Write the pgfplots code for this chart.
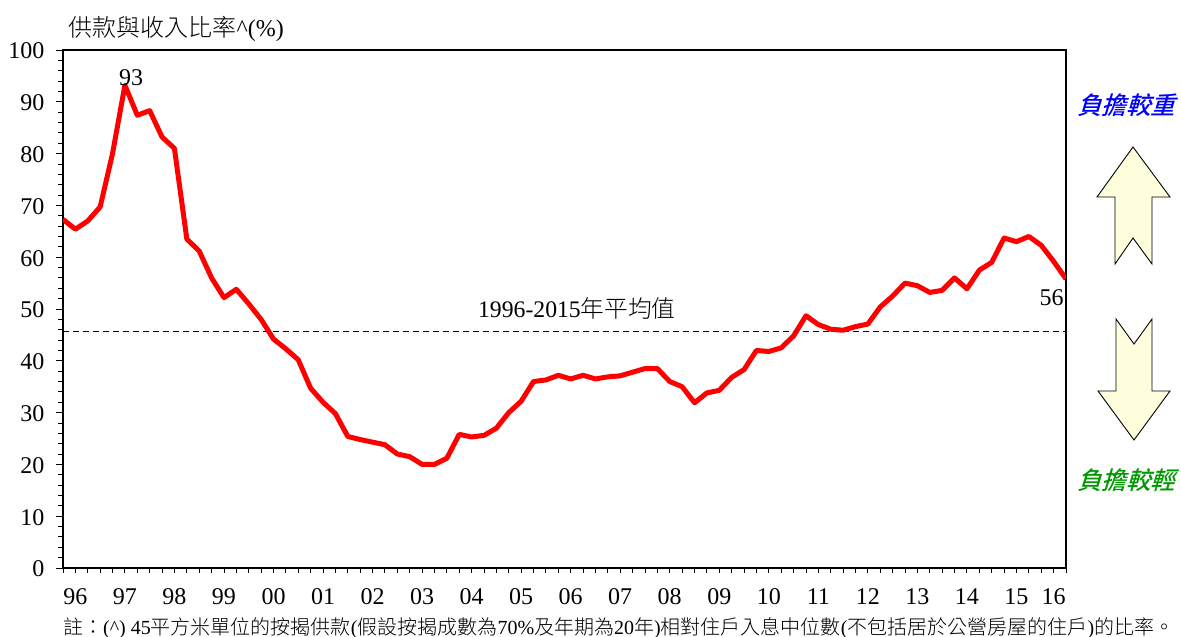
\documentclass[border=0pt]{standalone}
\usepackage{pgfplots}
\usepackage{fontspec}
\pgfplotsset{compat=1.18}
\setmainfont{Liberation Serif}
\newfontfamily\cjk{Noto Sans CJK TC}[UprightFont=* Light]
\newfontfamily\cjkit{Noto Sans CJK TC}[UprightFont=* Medium,FakeSlant=0.3]
\pgfplotstableread{
i v
0 67.3
1 65.4
2 67.0
3 69.7
4 80.0
5 93.2
6 87.4
7 88.3
8 83.2
9 81.0
10 63.5
11 61.2
12 56.0
13 52.2
14 53.8
15 51.0
16 48.0
17 44.2
18 42.3
19 40.2
20 34.7
21 32.0
22 29.8
23 25.4
24 24.8
25 24.3
26 23.8
27 22.0
28 21.5
29 20.0
30 20.0
31 21.2
32 25.8
33 25.3
34 25.6
35 27.0
36 30.0
37 32.2
38 36.0
39 36.3
40 37.2
41 36.5
42 37.2
43 36.5
44 36.9
45 37.1
46 37.8
47 38.5
48 38.5
49 36.0
50 35.0
51 31.9
52 33.8
53 34.3
54 36.8
55 38.3
56 42.0
57 41.8
58 42.5
59 44.8
60 48.7
61 47.0
62 46.1
63 45.9
64 46.6
65 47.1
66 50.4
67 52.5
68 55.0
69 54.5
70 53.2
71 53.6
72 56.0
73 53.9
74 57.5
75 59.0
76 63.7
77 63.0
78 64.0
79 62.3
80 59.2
81 55.8
}\ratio
\definecolor{arrowfill}{HTML}{FFFFDD}
\definecolor{dkgreen}{HTML}{009900}
\begin{document}
\begin{tikzpicture}[x=1pt,y=-1pt]
\path[use as bounding box] (0,0) rectangle (1181,637);
\begin{axis}[
  at={(63pt,-568pt)}, anchor=south west,
  scale only axis, width=1003pt, height=518pt,
  xmin=0, xmax=81, ymin=0, ymax=100,
  axis line style={line width=1.2pt},
  tick align=outside, tick pos=left,
  tick style={black,line width=0.9pt},
  major tick length=7pt, minor tick length=4.5pt,
  xtick={1,5,9,13,17,21,25,29,33,37,41,45,49,53,57,61,65,69,73,77,80},
  xticklabels={96,97,98,99,00,01,02,03,04,05,06,07,08,09,10,11,12,13,14,15,16},
  minor xtick={0,1,...,81},
  major x tick style={draw=none},
  ytick={0,10,...,100},
  minor y tick num=4,
  tick label style={font=\fontsize{24}{24}\selectfont},
  xticklabel style={yshift=-10pt},
  yticklabel style={xshift=-8pt,yshift=-1pt},
  /pgf/number format/assume math mode=true,
  clip=true,
]
\addplot[black,line width=0.9pt,dash pattern=on 6pt off 4pt,forget plot] coordinates {(0,45.75) (81,45.75)};
\addplot[red,line width=5pt,line join=round] table[x=i,y=v] {\ratio};
\node[font=\fontsize{24}{24}\selectfont,anchor=south] at (axis cs:5.5,92.4) {93};
\node[font=\fontsize{24}{24}\selectfont,anchor=north east] at (axis cs:81.1,54.5) {56};
\node[font=\fontsize{23.7}{24}\selectfont,anchor=center] at (axis cs:41.5,50.1) {1996-2015{\cjk 年平均值}};
\end{axis}
\node[anchor=west,font=\fontsize{24}{24}\selectfont] at (65,29) {{\cjk 供款與收入比率}\textasciicircum(\%)};
\node[anchor=west,font=\fontsize{20}{20}\selectfont,inner sep=0pt] at (63,628) {{\cjk 註：}(\textasciicircum) 45{\cjk 平方米單位的按揭供款}({\cjk 假設按揭成數為}70\%{\cjk 及年期為}20{\cjk 年}){\cjk 相對住戶入息中位數}({\cjk 不包括居於公營房屋的住戶}){\cjk 的比率。}};
\node[font=\fontsize{24.5}{25}\selectfont\cjkit,text=blue,inner sep=0pt] at (1126,105) {負擔較重};
\node[font=\fontsize{24.5}{25}\selectfont\cjkit,text=dkgreen,inner sep=0pt] at (1126,480) {負擔較輕};
\draw[black,line width=0.9pt,fill=arrowfill] (1133,147)--(1170,197)--(1152,197)--(1152,264)--(1133,238)--(1115,264)--(1115,197)--(1097,197)--cycle;
\draw[black,line width=0.9pt,fill=arrowfill] (1134,440)--(1170,391)--(1152,391)--(1152,319)--(1134,344)--(1116,319)--(1116,391)--(1098,391)--cycle;
\end{tikzpicture}
\end{document}
